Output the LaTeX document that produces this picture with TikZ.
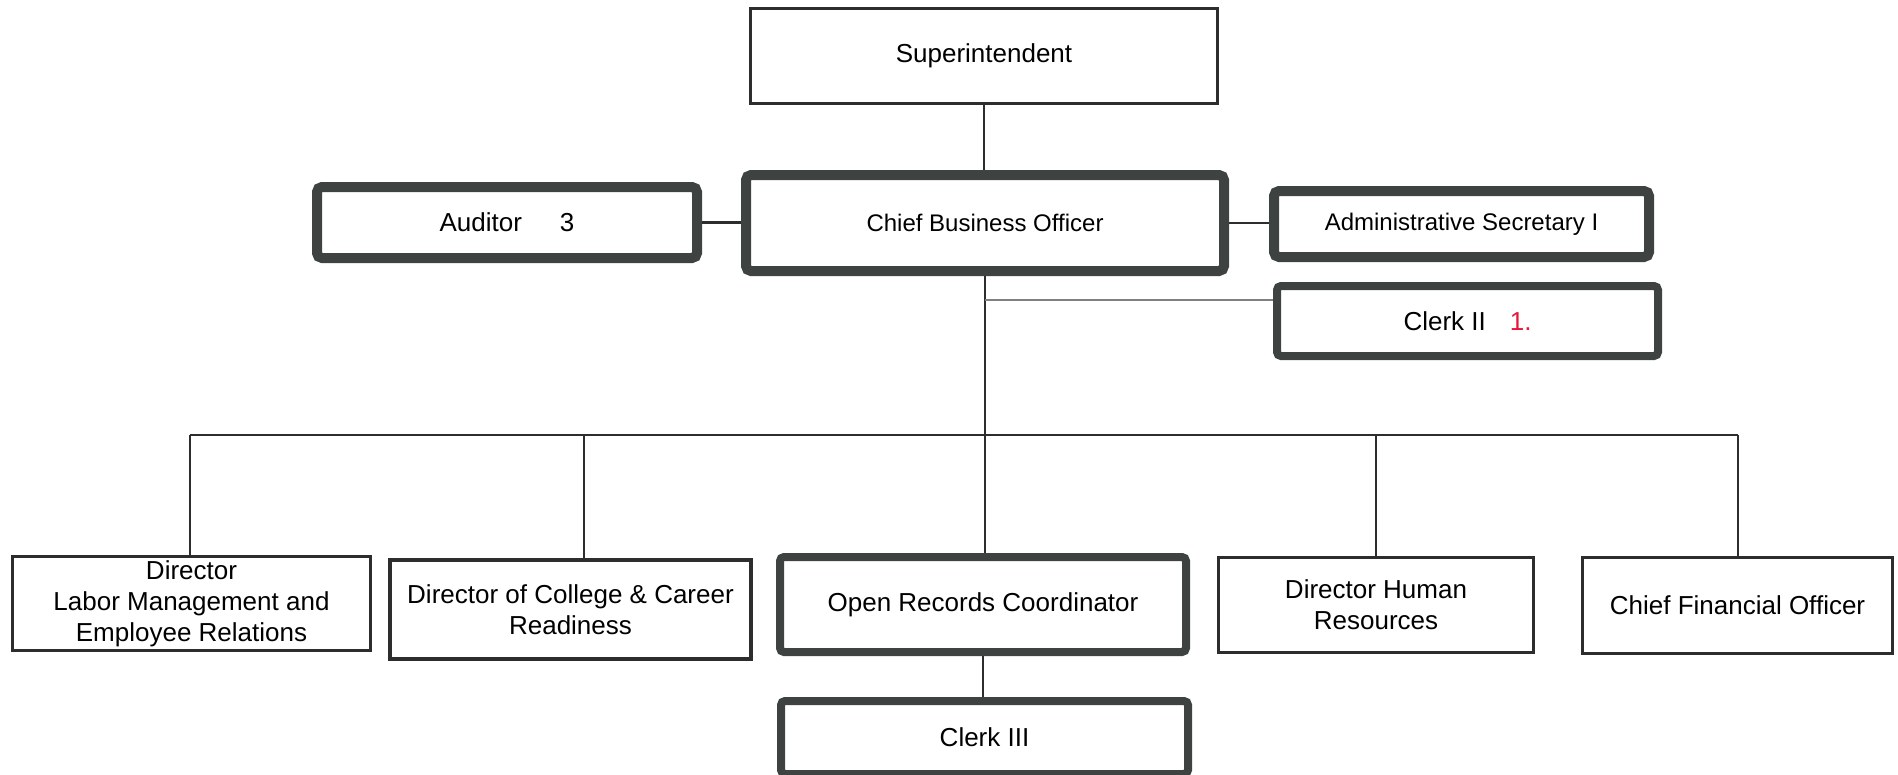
\documentclass[tikz,border=0pt]{standalone}
\usepackage{fontspec}
\setmainfont{Liberation Sans}
\definecolor{bord}{RGB}{62,66,64}
\definecolor{lin}{RGB}{45,45,45}
\definecolor{redno}{RGB}{232,22,58}
\begin{document}
\begin{tikzpicture}[x=1pt,y=-1pt,
  heavybox/.style={draw=bord,line width=10pt,rounded corners=5pt,fill=white,inner sep=0pt,align=center,font=\fontsize{26}{31}\selectfont},
  midbox/.style={draw=bord,line width=8pt,rounded corners=4pt,fill=white,inner sep=0pt,align=center,font=\fontsize{26}{31}\selectfont},
  thinbox/.style={draw=lin,line width=3pt,fill=white,inner sep=0pt,align=center,font=\fontsize{26}{31}\selectfont},
  conn/.style={draw=lin,line width=2.5pt},
  fineconn/.style={draw=lin,line width=1.3pt},
  greyconn/.style={draw=black!50,line width=1.6pt}]
\fill[white] (0,0) rectangle (1898,774);
\useasboundingbox (0,0) rectangle (1898,774);
\clip (0,0) rectangle (1898,774);
% nodes
\node[thinbox,minimum width=467pt,minimum height=95pt] (sup) at (984,56) {Superintendent};
\node[heavybox,minimum width=380pt,minimum height=71pt] (aud) at (507,222.5) {Auditor\hspace{38pt}3};
\node[heavybox,minimum width=478pt,minimum height=96pt,font=\fontsize{24}{29}\selectfont] (cbo) at (985,223) {Chief Business Officer};
\node[heavybox,minimum width=375pt,minimum height=66pt,font=\fontsize{24}{29}\selectfont] (adm) at (1461.5,224) {Administrative Secretary I};
\node[midbox,minimum width=381pt,minimum height=70pt] (clk2) at (1467.5,321) {Clerk II\hspace{24pt}\textcolor{redno}{1.}};
\node[thinbox,minimum width=358pt,minimum height=94pt] (dlm) at (191.5,603.5) {Director\\Labor Management and\\Employee Relations};
\node[thinbox,line width=4pt,minimum width=361pt,minimum height=99pt] (dcc) at (570.5,609.5) {Director of College \& Career\\Readiness};
\node[midbox,minimum width=406pt,minimum height=95pt] (orc) at (983,604.5) {Open Records Coordinator};
\node[thinbox,minimum width=315pt,minimum height=95pt] (dhr) at (1376,605) {Director Human\\Resources};
\node[thinbox,minimum width=310pt,minimum height=96pt] (cfo) at (1737.5,605.5) {Chief Financial Officer};
\node[midbox,minimum width=407pt,minimum height=73pt] (clk3) at (984.5,737.5) {Clerk III};
% junctions
\coordinate (busL) at (190,435);
\coordinate (busR) at (1738,435);
\coordinate (jdcc) at (584,435);
\coordinate (jclk) at (985,300);
% connectors
\draw[conn] (sup.south) -- (sup.south |- cbo.north);
\draw[conn] (aud.east) -- (cbo.west |- aud.east);
\draw[conn] (cbo.east) -- (adm.west |- cbo.east);
\draw[conn] (cbo.south) -- (cbo.south |- busL);
\draw[greyconn] (jclk) -- (jclk -| clk2.west);
\draw[conn] (busL) -- (busR);
\draw[conn] (busL) -- (busL |- dlm.north);
\draw[fineconn] (jdcc) -- (jdcc |- dcc.north);
\draw[conn] (cbo.south |- busL) -- (cbo.south |- orc.north);
\draw[conn] (dhr.north |- busL) -- (dhr.north);
\draw[conn] (busR) -- (busR |- cfo.north);
\draw[fineconn] (orc.south) -- (orc.south |- clk3.north);
\end{tikzpicture}
\end{document}
